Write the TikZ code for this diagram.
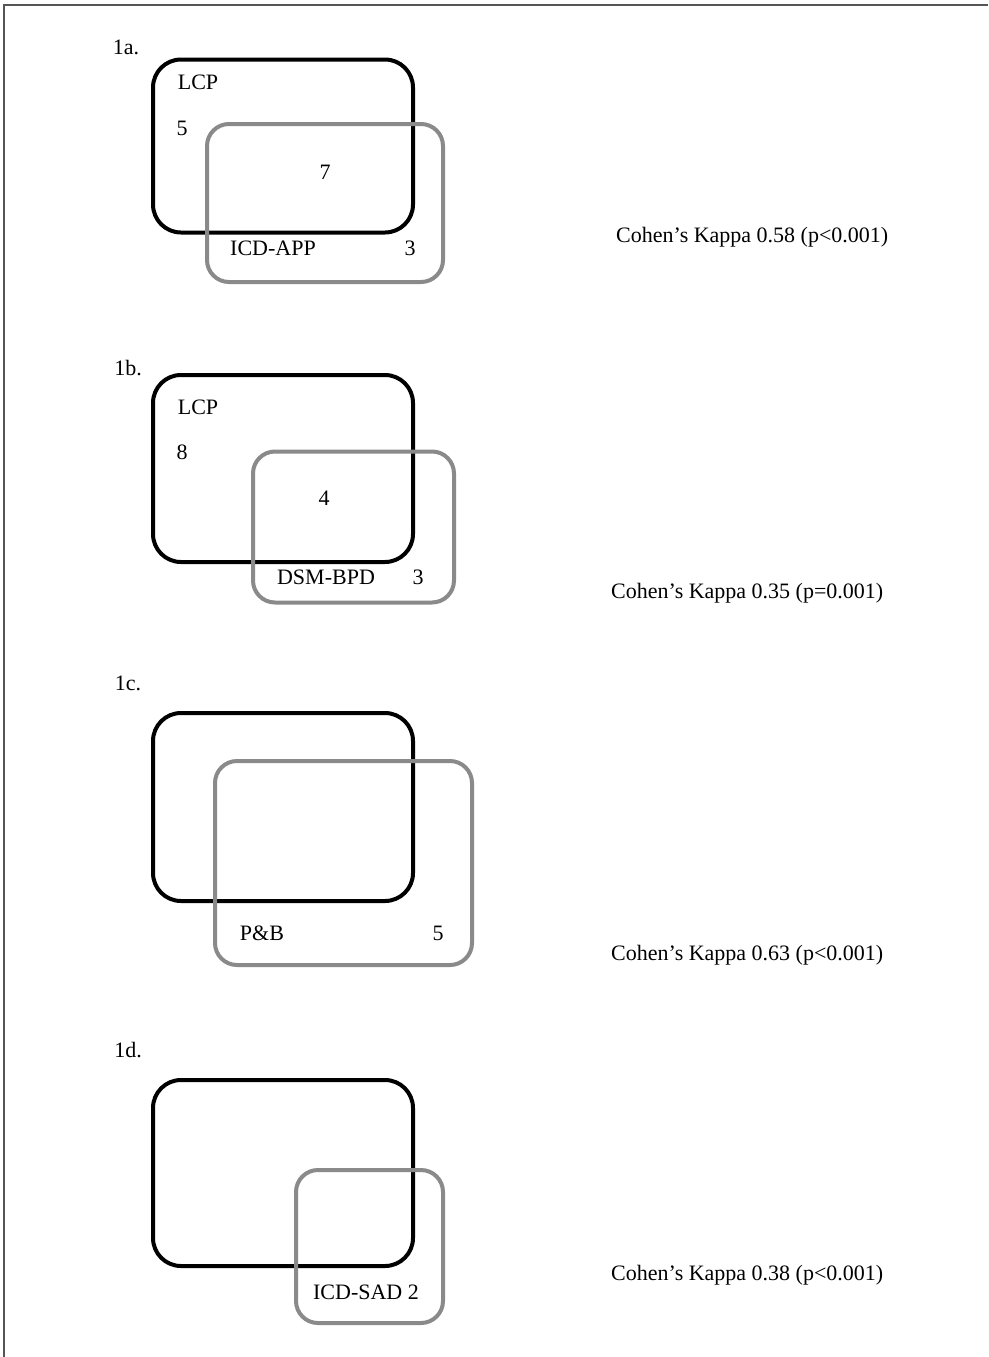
\documentclass[tikz,border=0pt]{standalone}
\usepackage{fontspec}
\setmainfont{Liberation Serif}
\definecolor{venngray}{HTML}{8A8A8A}
\definecolor{framegray}{HTML}{555555}
\tikzset{
  lcpbox/.style={draw=black, line width=4pt, rounded corners=28pt, inner sep=0pt, outer sep=0pt},
  grpbox/.style={draw=venngray, line width=4pt, rounded corners=22pt, inner sep=0pt, outer sep=0pt},
  lbl/.style={font=\fontsize{22}{25}\selectfont, inner sep=0pt},
  kappa/.style={font=\fontsize{22}{25}\selectfont, inner sep=0pt, anchor=west}
}
\begin{document}
\begin{tikzpicture}[x=1pt,y=-1pt]
\useasboundingbox (0,0) rectangle (988,1357);
\fill[white] (0,0) rectangle (988,1357);
% frame
\coordinate (fa) at (4,1357);
\coordinate (fb) at (4,5);
\coordinate (fc) at (988,5);
\draw[framegray, line width=2pt] (fa) -- (fb) -- (fc);

% ---------- 1a ----------
\node[lbl] (la) at (126,47) {1a.};
\node[lcpbox, minimum width=260pt, minimum height=173pt] (lcpa) at (283,146) {};
\node[grpbox, minimum width=236pt, minimum height=158pt] (icda) at (325,203) {};
\node[lbl] (lcpta) at (198,82) {LCP};
\node[lbl] (na5) at (182,128) {5};
\node[lbl] (na7) at (325,172) {7};
\node[lbl] (icdta) at (273,248) {ICD-APP};
\node[lbl] (na3) at (410,248) {3};
\node[kappa] (ka) at (616,237) {Cohen’s Kappa 0.58 (p<0.001)};

% ---------- 1b ----------
\node[lbl] (lb) at (128,368) {1b.};
\node[lcpbox, minimum width=260pt, minimum height=187pt] (lcpb) at (283,468.5) {};
\node[grpbox, minimum width=201pt, minimum height=151pt] (dsmb) at (353.5,527) {};
\node[lbl] (lcptb) at (198,407) {LCP};
\node[lbl] (nb8) at (182,452) {8};
\node[lbl] (nb4) at (324,498) {4};
\node[lbl] (dsmtb) at (326,577) {DSM-BPD};
\node[lbl] (nb3) at (418,577) {3};
\node[kappa] (kb) at (611,593) {Cohen’s Kappa 0.35 (p=0.001)};

% ---------- 1c ----------
\node[lbl] (lc) at (128,683) {1c.};
\node[lcpbox, minimum width=260pt, minimum height=188pt] (lcpc) at (283,807) {};
\node[grpbox, minimum width=257pt, minimum height=204pt] (pbc) at (343.5,863) {};
\node[lbl] (pbtc) at (262,933) {P\&B};
\node[lbl] (nc5) at (438,933) {5};
\node[kappa] (kc) at (611,955) {Cohen’s Kappa 0.63 (p<0.001)};

% ---------- 1d ----------
\node[lbl] (ld) at (128,1050) {1d.};
\node[lcpbox, minimum width=260pt, minimum height=186pt] (lcpd) at (283,1173) {};
\node[grpbox, minimum width=147pt, minimum height=153pt] (sadd) at (369.5,1246.5) {};
\node[lbl] (sadtd) at (366,1292) {ICD-SAD 2};
\node[kappa] (kd) at (611,1275) {Cohen’s Kappa 0.38 (p<0.001)};
\end{tikzpicture}
\end{document}
